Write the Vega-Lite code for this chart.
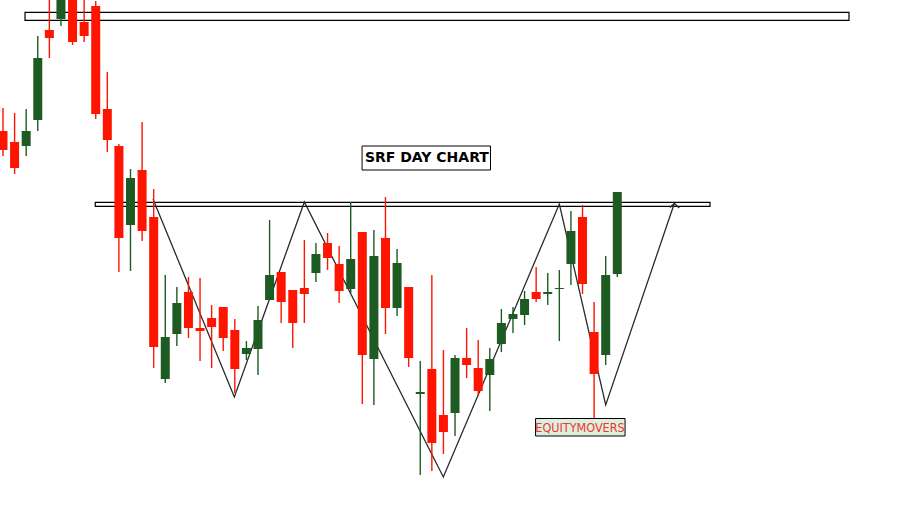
{
  "$schema": "https://vega.github.io/schema/vega-lite/v6.json",
  "width": 922,
  "height": 523,
  "autosize": {"type": "fit", "contains": "padding"},
  "padding": 0,
  "background": "white",
  "config": {"view": {"stroke": null}, "scale": {"continuousPadding": 0}},
  "datasets": {
    "candles": [
      {"t":0,"o":2469,"h":2492,"l":2444,"c":2450},
      {"t":1,"o":2458,"h":2487,"l":2426,"c":2432},
      {"t":2,"o":2454,"h":2491,"l":2444,"c":2469},
      {"t":3,"o":2480,"h":2564,"l":2469,"c":2542},
      {"t":4,"o":2570,"h":2610,"l":2542,"c":2562},
      {"t":5,"o":2581,"h":2610,"l":2574,"c":2605},
      {"t":6,"o":2605,"h":2610,"l":2555,"c":2558},
      {"t":7,"o":2578,"h":2605,"l":2558,"c":2564},
      {"t":8,"o":2594,"h":2599,"l":2481,"c":2486},
      {"t":9,"o":2491,"h":2528,"l":2448,"c":2460},
      {"t":10,"o":2454,"h":2456,"l":2328,"c":2362},
      {"t":11,"o":2375,"h":2431,"l":2329,"c":2422},
      {"t":12,"o":2430,"h":2478,"l":2359,"c":2369},
      {"t":13,"o":2383,"h":2411,"l":2232,"c":2253},
      {"t":14,"o":2221,"h":2325,"l":2217,"c":2263},
      {"t":15,"o":2266,"h":2313,"l":2254,"c":2297},
      {"t":16,"o":2308,"h":2323,"l":2262,"c":2272},
      {"t":17,"o":2272,"h":2322,"l":2239,"c":2269},
      {"t":18,"o":2282,"h":2295,"l":2232,"c":2273},
      {"t":19,"o":2293,"h":2293,"l":2249,"c":2262},
      {"t":20,"o":2270,"h":2281,"l":2207,"c":2231},
      {"t":21,"o":2246,"h":2259,"l":2240,"c":2252},
      {"t":22,"o":2251,"h":2294,"l":2225,"c":2280},
      {"t":23,"o":2300,"h":2380,"l":2300,"c":2325},
      {"t":24,"o":2328,"h":2328,"l":2277,"c":2298},
      {"t":25,"o":2310,"h":2310,"l":2252,"c":2277},
      {"t":26,"o":2312,"h":2360,"l":2277,"c":2306},
      {"t":27,"o":2327,"h":2357,"l":2318,"c":2346},
      {"t":28,"o":2357,"h":2367,"l":2330,"c":2342},
      {"t":29,"o":2336,"h":2354,"l":2297,"c":2309},
      {"t":30,"o":2311,"h":2398,"l":2307,"c":2341},
      {"t":31,"o":2368,"h":2368,"l":2196,"c":2245},
      {"t":32,"o":2241,"h":2370,"l":2195,"c":2344},
      {"t":33,"o":2362,"h":2403,"l":2266,"c":2292},
      {"t":34,"o":2292,"h":2351,"l":2284,"c":2337},
      {"t":35,"o":2313,"h":2313,"l":2233,"c":2242},
      {"t":36,"o":2206,"h":2239,"l":2125,"c":2208},
      {"t":37,"o":2231,"h":2325,"l":2129,"c":2157},
      {"t":38,"o":2185,"h":2250,"l":2146,"c":2168},
      {"t":39,"o":2187,"h":2245,"l":2164,"c":2242},
      {"t":40,"o":2242,"h":2272,"l":2222,"c":2235},
      {"t":41,"o":2232,"h":2260,"l":2204,"c":2209},
      {"t":42,"o":2225,"h":2252,"l":2189,"c":2241},
      {"t":43,"o":2256,"h":2291,"l":2248,"c":2277},
      {"t":44,"o":2281,"h":2293,"l":2267,"c":2286},
      {"t":45,"o":2285,"h":2309,"l":2275,"c":2301},
      {"t":46,"o":2308,"h":2333,"l":2298,"c":2301},
      {"t":47,"o":2306,"h":2327,"l":2295,"c":2308},
      {"t":48,"o":2311,"h":2330,"l":2259,"c":2312},
      {"t":49,"o":2336,"h":2389,"l":2315,"c":2369},
      {"t":50,"o":2383,"h":2395,"l":2306,"c":2316},
      {"t":51,"o":2268,"h":2298,"l":2181,"c":2226},
      {"t":52,"o":2245,"h":2344,"l":2235,"c":2325},
      {"t":53,"o":2326,"h":2408,"l":2323,"c":2408}
    ],
    "zigzag": [
      {"seg":"pattern","k":1,"t":12.94,"p":2401},
      {"seg":"pattern","k":2,"t":19.96,"p":2203},
      {"seg":"pattern","k":3,"t":26.0,"p":2398},
      {"seg":"pattern","k":4,"t":37.99,"p":2123},
      {"seg":"pattern","k":5,"t":48.0,"p":2396},
      {"seg":"pattern","k":6,"t":52.0,"p":2195},
      {"seg":"pattern","k":7,"t":57.92,"p":2396.5},
      {"seg":"arrow","k":1,"t":57.55,"p":2392.5},
      {"seg":"arrow","k":2,"t":57.92,"p":2396.5},
      {"seg":"arrow","k":3,"t":58.35,"p":2392}
    ],
    "levels": [
      {"name":"top","t":1.9,"t2":72.99,"p":2587.7,"p2":2579.7},
      {"name":"neckline","t":7.96,"t2":61.0,"p":2397.7,"p2":2393.7}
    ],
    "titlebox": [
      {"label":"SRF DAY CHART","t":30.98,"t2":42.06,"p":2454,"p2":2430,"tc":36.57,"pc":2442}
    ],
    "brand": [
      {"label":"EQUITYMOVERS","t":45.95,"t2":53.67,"p":2181.5,"p2":2164,"tc":49.78,"pc":2172.5}
    ]
  },
  "layer": [
    {
      "data": {"name": "levels"},
      "mark": {"type": "rect", "fill": "white", "fillOpacity": 0, "stroke": "black", "strokeWidth": 1.2},
      "encoding": {
        "x": {"field": "t", "type": "quantitative", "scale": {"domain": [-0.259, 79.29], "nice": false, "zero": false, "padding": 0}, "axis": null},
        "x2": {"field": "t2"},
        "y": {"field": "p", "type": "quantitative", "scale": {"domain": [2077, 2600], "nice": false, "zero": false, "padding": 0}, "axis": null},
        "y2": {"field": "p2"}
      }
    },
    {
      "data": {"name": "zigzag"},
      "mark": {"type": "line", "stroke": "#2a2a2a", "strokeWidth": 1.3, "clip": true},
      "encoding": {
        "x": {"field": "t", "type": "quantitative", "scale": {"domain": [-0.259, 79.29], "nice": false, "zero": false, "padding": 0}, "axis": null},
        "y": {"field": "p", "type": "quantitative", "scale": {"domain": [2077, 2600], "nice": false, "zero": false, "padding": 0}, "axis": null},
        "detail": {"field": "seg"},
        "order": {"field": "k"}
      }
    },
    {
      "data": {"name": "candles"},
      "mark": {"type": "rule", "strokeWidth": 1.4, "clip": true},
      "encoding": {
        "x": {"field": "t", "type": "quantitative", "scale": {"domain": [-0.259, 79.29], "nice": false, "zero": false, "padding": 0}, "axis": null},
        "y": {"field": "l", "type": "quantitative", "scale": {"domain": [2077, 2600], "nice": false, "zero": false, "padding": 0}, "axis": null},
        "y2": {"field": "h"},
        "color": {"condition": {"test": "datum.c > datum.o", "value": "#1d5b22"}, "value": "#ff1400"}
      }
    },
    {
      "data": {"name": "candles"},
      "mark": {"type": "bar", "size": 9, "clip": true},
      "encoding": {
        "x": {"field": "t", "type": "quantitative", "scale": {"domain": [-0.259, 79.29], "nice": false, "zero": false, "padding": 0}, "axis": null},
        "y": {"field": "o", "type": "quantitative", "scale": {"domain": [2077, 2600], "nice": false, "zero": false, "padding": 0}, "axis": null},
        "y2": {"field": "c"},
        "color": {"condition": {"test": "datum.c > datum.o", "value": "#1d5b22"}, "value": "#ff1400"}
      }
    },
    {
      "data": {"name": "titlebox"},
      "mark": {"type": "rect", "fill": "white", "stroke": "black", "strokeWidth": 1},
      "encoding": {
        "x": {"field": "t", "type": "quantitative", "scale": {"domain": [-0.259, 79.29], "nice": false, "zero": false, "padding": 0}, "axis": null},
        "x2": {"field": "t2"},
        "y": {"field": "p", "type": "quantitative", "scale": {"domain": [2077, 2600], "nice": false, "zero": false, "padding": 0}, "axis": null},
        "y2": {"field": "p2"}
      }
    },
    {
      "data": {"name": "titlebox"},
      "mark": {"type": "text", "font": "DejaVu Sans", "fontWeight": 600, "fontSize": 14, "color": "black", "align": "center", "baseline": "middle"},
      "encoding": {
        "x": {"field": "tc", "type": "quantitative", "scale": {"domain": [-0.259, 79.29], "nice": false, "zero": false, "padding": 0}, "axis": null},
        "y": {"field": "pc", "type": "quantitative", "scale": {"domain": [2077, 2600], "nice": false, "zero": false, "padding": 0}, "axis": null},
        "text": {"field": "label"}
      }
    },
    {
      "data": {"name": "brand"},
      "mark": {"type": "rect", "fill": "#dcefdc", "stroke": "black", "strokeWidth": 1},
      "encoding": {
        "x": {"field": "t", "type": "quantitative", "scale": {"domain": [-0.259, 79.29], "nice": false, "zero": false, "padding": 0}, "axis": null},
        "x2": {"field": "t2"},
        "y": {"field": "p", "type": "quantitative", "scale": {"domain": [2077, 2600], "nice": false, "zero": false, "padding": 0}, "axis": null},
        "y2": {"field": "p2"}
      }
    },
    {
      "data": {"name": "brand"},
      "mark": {"type": "text", "font": "'Liberation Sans Narrow', 'DejaVu Sans Condensed', sans-serif", "fontSize": 12.5, "color": "#ee3333", "align": "center", "baseline": "middle"},
      "encoding": {
        "x": {"field": "tc", "type": "quantitative", "scale": {"domain": [-0.259, 79.29], "nice": false, "zero": false, "padding": 0}, "axis": null},
        "y": {"field": "pc", "type": "quantitative", "scale": {"domain": [2077, 2600], "nice": false, "zero": false, "padding": 0}, "axis": null},
        "text": {"field": "label"}
      }
    }
  ]
}
